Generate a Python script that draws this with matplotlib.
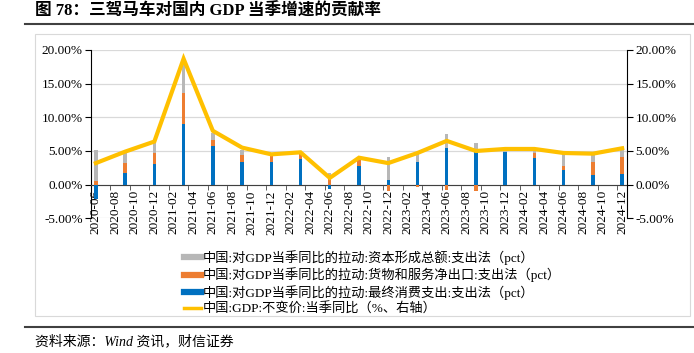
import numpy as np
import matplotlib
matplotlib.use('Agg')
import matplotlib.pyplot as plt
from matplotlib.lines import Line2D
from matplotlib.patches import Rectangle
from matplotlib.ticker import FuncFormatter

plt.rcParams['font.family'] = ['Liberation Serif', 'Noto Sans CJK SC']
plt.rcParams['axes.unicode_minus'] = False

# quarterly data (pct / %)
quarters = ['2020-06', '2020-09', '2020-12', '2021-03', '2021-06', '2021-09', '2021-12',
            '2022-03', '2022-06', '2022-09', '2022-12', '2023-03', '2023-06', '2023-09',
            '2023-12', '2024-03', '2024-06', '2024-09', '2024-12']
consumption = [-2.1, 1.8, 3.1, 9.0, 5.7, 3.4, 3.4, 3.8, -0.7, 2.8, 0.7, 3.3, 5.5, 4.8,
               4.8, 4.0, 2.2, 1.4, 1.6]
net_exports = [0.5, 1.4, 1.6, 4.6, 0.9, 1.0, 0.9, 0.7, 0.9, 0.9, -0.9, -0.3, -0.8, -1.0,
               0.0, 0.75, 0.6, 2.0, 2.5]
capital = [4.7, 1.6, 1.6, 4.9, 1.1, 0.8, 0.2, 0.3, 0.8, 0.3, 3.4, 1.4, 2.0, 1.4,
           0.4, 0.4, 1.8, 1.1, 1.0]
gdp = [3.2, 4.9, 6.4, 18.7, 8.0, 5.5, 4.5, 4.8, 1.0, 4.0, 3.2, 4.7, 6.5, 5.0,
       5.3, 5.3, 4.7, 4.6, 5.4]

month_labels = ['%d-%02d' % (y, m) for y in range(2020, 2025) for m in range(2, 13, 2)
                if not (y == 2020 and m < 6)]

labels = ['中国:对GDP当季同比的拉动:资本形成总额:支出法（pct）',
          '中国:对GDP当季同比的拉动:货物和服务净出口:支出法（pct）',
          '中国:对GDP当季同比的拉动:最终消费支出:支出法（pct）',
          '中国:GDP:不变价:当季同比（%、右轴）']
colors = {'capital': '#B7B7B7', 'net': '#ED7D31', 'cons': '#0070C0', 'gdp': '#FFC000'}


def month_index(s):
    y, m = s.split('-')
    return (int(y) - 2020) * 12 + int(m) - 6


qx = np.array([month_index(q) for q in quarters])
mx = np.array([month_index(m) for m in month_labels])

fig = plt.figure(figsize=(6.94, 3.53), dpi=100)
ax = fig.add_axes([91 / 694, 1 - 218.3 / 353, (627 - 91) / 694, (218.3 - 50) / 353])

# stacked bars, positives up from 0 and negatives down from 0
pos_base = np.zeros(len(qx))
neg_base = np.zeros(len(qx))
for vals, c in [(consumption, colors['cons']), (net_exports, colors['net']),
                (capital, colors['capital'])]:
    v = np.array(vals)
    bottom = np.where(v >= 0, pos_base, neg_base)
    ax.bar(qx, v, bottom=bottom, width=0.35, color=c, zorder=3)
    pos_base = pos_base + np.where(v > 0, v, 0)
    neg_base = neg_base + np.where(v < 0, v, 0)

ax.set_ylim(-5, 20)
ax.set_xlim(-0.5, 54.5)
ax.set_yticks(np.arange(-5, 20.1, 5))
fmt = FuncFormatter(lambda v, p: '%.2f%%' % v)
ax.yaxis.set_major_formatter(fmt)
ax.grid(axis='y', color='#D9D9D9', lw=0.9, zorder=0)
ax.set_axisbelow(True)

ax.spines['top'].set_visible(False)
ax.spines['bottom'].set_position(('data', 0))
ax.spines['bottom'].set_color('#404040')
ax.spines['left'].set_color('black')
ax.spines['right'].set_visible(False)

ax.set_xticks(mx)
ax.set_xticklabels(month_labels, rotation=90, fontsize=9.5)
ax.set_xticks(np.arange(1.5, 54.5, 2), minor=True)
ax.tick_params(axis='x', which='major', length=0, pad=4)
ax.tick_params(axis='x', which='minor', length=3.5, direction='out', color='#404040')
ax.tick_params(axis='y', length=4, direction='out', labelsize=9.5, pad=2)

ax2 = ax.twinx()
ax2.plot(qx, gdp, color=colors['gdp'], lw=3, solid_joinstyle='miter', zorder=4)
ax2.set_ylim(-5, 20)
ax2.set_yticks(np.arange(-5, 20.1, 5))
ax2.yaxis.set_major_formatter(fmt)
ax2.tick_params(axis='y', length=4, direction='out', labelsize=9.5, pad=2)
for s in ['top', 'bottom', 'left']:
    ax2.spines[s].set_visible(False)
ax2.spines['right'].set_color('black')

handles = [Line2D([], [], color=colors['capital'], lw=4.5),
           Line2D([], [], color=colors['net'], lw=4.5),
           Line2D([], [], color=colors['cons'], lw=4.5),
           Line2D([], [], color=colors['gdp'], lw=2.5)]
fig.legend(handles, labels, loc='upper left', bbox_to_anchor=(184 / 694, 1 - 250 / 353),
           frameon=False, fontsize=9.5, handlelength=1.3, handletextpad=0.15,
           labelspacing=0.2, borderpad=0, borderaxespad=0)

# frame, title, rules and source
fig.add_artist(Rectangle((35 / 694, 1 - 316 / 353), (690 - 35) / 694, (316 - 34) / 353,
                         transform=fig.transFigure, fill=False, edgecolor='#D9D9D9', lw=0.8))
fig.add_artist(Line2D([25 / 694, 1], [1 - 24.3 / 353] * 2, color='#404040', lw=1.5))
fig.add_artist(Line2D([25 / 694, 1], [1 - 326.7 / 353] * 2, color='#404040', lw=1.5))
fig.text(35 / 694, 1 - 12 / 353, '图 78：三驾马车对国内 GDP 当季增速的贡献率',
         fontsize=12, fontweight='bold', va='center')
fig.text(35 / 694, 1 - 341 / 353, '资料来源：Wind 资讯，财信证券',
         fontsize=10, style='italic', va='center')

fig.savefig('out.png', dpi=100)
